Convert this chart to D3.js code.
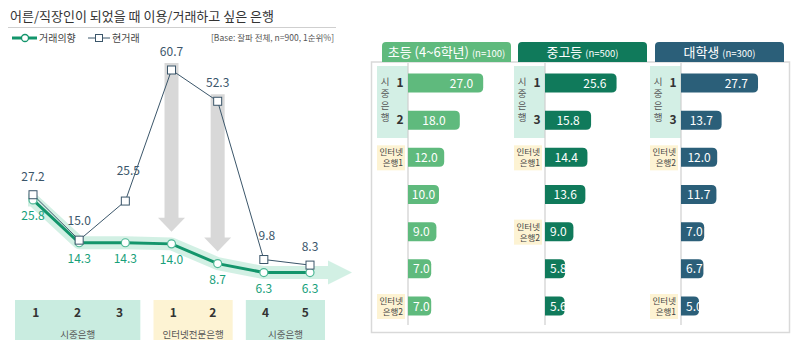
<!DOCTYPE html>
<html><head><meta charset="utf-8">
<script src="https://cdn.jsdelivr.net/npm/d3@7"></script>
<style>
body{margin:0;background:#fff;}
svg{display:block;font-family:"Noto Sans CJK KR","Noto Sans",sans-serif;}
</style></head>
<body><svg id="c" width="800" height="359"></svg>
<script>
// ---------- data ----------
const titleText = '어른/직장인이 되었을 때 이용/거래하고 싶은 은행';
const baseNote = '[Base: 잘파 전체, n=900,  1순위%]';
const seriesNames = ['거래의향', '현거래'];
const lineCategories = ['시중1', '시중2', '시중3', '인터넷1', '인터넷2', '시중4', '시중5'];
const intentValues = [25.8, 14.3, 14.3, 14.0, 8.7, 6.3, 6.3];
const currentValues = [27.2, 15.0, 25.5, 60.7, 52.3, 9.8, 8.3];
const groupNames = ['시중은행', '인터넷전문은행', '시중은행'];
const groupNumbers = [['1', '2', '3'], ['1', '2'], ['4', '5']];
const groupStart = [0, 3, 5];
const arrowIdx = [3, 4];

const panelTitles = ['초등 (4~6학년)', '중고등', '대학생'];
const panelN = ['(n=100)', '(n=500)', '(n=300)'];
const elemValues = [27.0, 18.0, 12.0, 10.0, 9.0, 7.0, 7.0];
const elemLabels = ['1', '2', '인터넷|은행1', '', '', '', '인터넷|은행2'];
const midValues = [25.6, 15.8, 14.4, 13.6, 9.0, 5.8, 5.6];
const midLabels = ['1', '3', '인터넷|은행1', '', '인터넷|은행2', '', ''];
const uniValues = [27.7, 13.7, 12.0, 11.7, 7.0, 6.7, 5.0];
const uniLabels = ['1', '3', '인터넷|은행2', '', '', '', '인터넷|은행1'];
const sideLabel = '시중은행';

// ---------- styles ----------
const green = '#17a07a', greenLine = '#13956b', navy = '#3b566a';
const panelColors = ['#5fba7d', '#107a5b', '#2b5f79'];

const svg = d3.select('#c');

// title
svg.append('text').attr('x', 10).attr('y', 21).attr('font-size', 13).attr('fill', '#333').text(titleText);
svg.append('line').attr('x1', 8).attr('x2', 336).attr('y1', 27.5).attr('y2', 27.5).attr('stroke', '#cfcfcf').attr('stroke-width', 1.2);

// legend
const lg = svg.append('g');
lg.append('line').attr('x1', 12).attr('x2', 37).attr('y1', 38).attr('y2', 38).attr('stroke', greenLine).attr('stroke-width', 3);
lg.append('circle').attr('cx', 25).attr('cy', 38).attr('r', 3.5).attr('fill', '#fff').attr('stroke', greenLine).attr('stroke-width', 1.3);
lg.append('text').attr('x', 39).attr('y', 41.5).attr('font-size', 10).attr('fill', '#444').text(seriesNames[0]);
lg.append('line').attr('x1', 88).attr('x2', 110).attr('y1', 38).attr('y2', 38).attr('stroke', navy).attr('stroke-width', 1);
lg.append('rect').attr('x', 95.5).attr('y', 34.5).attr('width', 7).attr('height', 7).attr('fill', '#fff').attr('stroke', navy).attr('stroke-width', 1);
lg.append('text').attr('x', 112).attr('y', 41.5).attr('font-size', 10).attr('fill', '#444').text(seriesNames[1]);
svg.append('text').attr('x', 334).attr('y', 41).attr('text-anchor', 'end').attr('font-size', 8.5).attr('fill', '#555').text(baseNote);

// line chart scales
const x = d3.scalePoint().domain(lineCategories).range([33, 310]);
const y = d3.scaleLinear().domain([0, 60.7]).range([296, 70]);
const pts = (vals) => vals.map((v, i) => [x(lineCategories[i]), y(v)]);
const gp = pts(intentValues), cp = pts(currentValues);

// green band with arrow
const bandPts = [[gp[0][0] - 5, gp[0][1]]].concat(gp).concat([[x.range()[1] + 18, gp[gp.length - 1][1]]]);
svg.append('path').attr('d', d3.line()(bandPts)).attr('fill', 'none').attr('stroke', '#cdeee1').attr('stroke-width', 13).attr('stroke-linejoin', 'round').attr('opacity', 0.9);
const ax = x.range()[1] + 18, ay = gp[gp.length - 1][1];
svg.append('path').attr('d', `M${ax},${ay - 12}L${ax + 24},${ay}L${ax},${ay + 12}Z`).attr('fill', '#cdeee1').attr('opacity', 0.9);

// gray arrows
arrowIdx.forEach(i => {
  const cx = x(lineCategories[i]);
  const top = y(currentValues[i]) - 7;
  const tip = y(intentValues[i]) - 12;
  const hs = tip - 14;
  svg.append('path').attr('d', `M${cx - 7},${top}L${cx + 7},${top}L${cx + 7},${hs}L${cx + 13.5},${hs}L${cx},${tip}L${cx - 13.5},${hs}L${cx - 7},${hs}Z`).attr('fill', '#d6d6d6').attr('opacity', 0.95);
});

// current line
svg.append('path').attr('d', d3.line()(cp)).attr('fill', 'none').attr('stroke', navy).attr('stroke-width', 1);
// intent line
svg.append('path').attr('d', d3.line()(gp)).attr('fill', 'none').attr('stroke', greenLine).attr('stroke-width', 3);
svg.selectAll('.gc').data(gp).enter().append('circle').attr('cx', d => d[0]).attr('cy', d => d[1]).attr('r', 4).attr('fill', '#fff').attr('stroke', '#4fb896').attr('stroke-width', 1.2);
svg.selectAll('.cs').data(cp).enter().append('rect').attr('x', d => d[0] - 4).attr('y', d => d[1] - 4).attr('width', 8).attr('height', 8).attr('fill', '#fff').attr('stroke', navy).attr('stroke-width', 1);

// labels
const curDy = [-14, -15, -26, -14, -14, -20, -14];
const curDx = [0, 0, 3, 0, 0, 3, 0];
svg.selectAll('.cl').data(cp).enter().append('text').attr('x', (d, i) => d[0] + curDx[i]).attr('y', (d, i) => d[1] + curDy[i])
  .attr('text-anchor', 'middle').attr('font-size', 12).attr('fill', navy).text((d, i) => currentValues[i].toFixed(1));
svg.selectAll('.gl').data(gp).enter().append('text').attr('x', d => d[0]).attr('y', d => d[1] + 20)
  .attr('text-anchor', 'middle').attr('font-size', 12).attr('fill', green).text((d, i) => intentValues[i].toFixed(1));

// group boxes
groupNames.forEach((g, gi) => {
  const n = groupNumbers[gi].length;
  const x0 = x(lineCategories[groupStart[gi]]) - 18;
  const x1 = x(lineCategories[groupStart[gi] + n - 1]) + 15;
  const fill = gi === 1 ? '#fdf3d3' : '#c9ece0';
  svg.append('rect').attr('x', x0).attr('y', 300).attr('width', x1 - x0).attr('height', 40).attr('fill', fill);
  groupNumbers[gi].forEach((t, j) => {
    svg.append('text').attr('x', x0 + (j + 0.5) * (x1 - x0) / n).attr('y', 316.5).attr('text-anchor', 'middle')
      .attr('font-size', 12).attr('font-weight', 'bold').attr('fill', '#333').text(t);
  });
  svg.append('text').attr('x', (x0 + x1) / 2).attr('y', 338).attr('text-anchor', 'middle').attr('font-size', 9.5).attr('fill', '#555').text(g);
});

// ---------- right panels ----------
svg.append('rect').attr('x', 371.5).attr('y', 62).attr('width', 418).attr('height', 270.5).attr('fill', '#fff').attr('stroke', '#d9d9d9').attr('stroke-width', 1.5);

const panels = [
  {vals: elemValues, labels: elemLabels},
  {vals: midValues, labels: midLabels},
  {vals: uniValues, labels: uniLabels}
];
const tabX = [382, 518, 655], tabW = 129;
const axisX = [408, 545, 681];
const rowY = d3.scalePoint().domain(d3.range(7)).range([83, 306]);
const bw = d3.scaleLinear().domain([0, 30]).range([5, 83]);
const barH = 19;
const defs = svg.append('defs');

panels.forEach((p, pi) => {
  const tx = tabX[pi];
  svg.append('path').attr('d', `M${tx},62L${tx},46Q${tx},42 ${tx + 4},42L${tx + tabW - 4},42Q${tx + tabW},42 ${tx + tabW},46L${tx + tabW},62Z`).attr('fill', panelColors[pi]);
  const tt = svg.append('text').attr('x', tx + tabW / 2).attr('y', 57).attr('text-anchor', 'middle').attr('fill', '#fff');
  tt.append('tspan').attr('font-size', 13).text(panelTitles[pi] + ' ');
  tt.append('tspan').attr('font-size', 9.5).text(panelN[pi]);

  const a = axisX[pi];
  svg.append('rect').attr('x', a - 31).attr('y', 66).attr('width', 31).attr('height', 72).attr('fill', '#d3efe5');
  svg.append('text').attr('x', a - 23).attr('y', 101).attr('text-anchor', 'middle')
    .style('writing-mode', 'vertical-rl').style('letter-spacing', '2.5px')
    .attr('font-size', 9.5).attr('fill', '#555').text(sideLabel);
  svg.append('line').attr('x1', a).attr('x2', a).attr('y1', 63).attr('y2', 325).attr('stroke', '#cfcfcf').attr('stroke-width', 1.2);

  p.vals.forEach((v, r) => {
    const cy = rowY(r);
    const w = bw(v);
    const x0 = a, x1 = a + w, y0 = cy - barH / 2, y1 = cy + barH / 2, rr = 5;
    svg.append('path').attr('d', `M${x0},${y0}L${x1 - rr},${y0}Q${x1},${y0} ${x1},${y0 + rr}L${x1},${y1 - rr}Q${x1},${y1} ${x1 - rr},${y1}L${x0},${y1}Z`).attr('fill', panelColors[pi]);
    const cid = `clip${pi}_${r}`;
    defs.append('clipPath').attr('id', cid).append('rect').attr('x', x0).attr('y', y0).attr('width', w + 1).attr('height', barH);
    const lt = svg.append('text').attr('clip-path', `url(#${cid})`).attr('y', cy + 4.5).attr('font-size', 12).attr('fill', '#fff').text(v.toFixed(1));
    if (v > 20) lt.attr('x', x1 - 10).attr('text-anchor', 'end');
    else if (w < 30) lt.attr('x', a + 5).attr('text-anchor', 'start');
    else lt.attr('x', a + w / 2).attr('text-anchor', 'middle');

    const lab = p.labels[r];
    if (!lab) return;
    if (lab.indexOf('|') < 0) {
      svg.append('text').attr('x', a - 8).attr('y', cy + 4).attr('text-anchor', 'middle').attr('font-size', 12).attr('font-weight', 'bold').attr('fill', '#333').text(lab);
    } else {
      const parts = lab.split('|');
      svg.append('rect').attr('x', a - 31).attr('y', cy - 12).attr('width', 28).attr('height', 25).attr('fill', '#fdf3d3');
      parts.forEach((t, k) => {
        svg.append('text').attr('x', a - 5).attr('y', cy - 2 + k * 11).attr('text-anchor', 'end').attr('font-size', 8.5).attr('fill', '#444').text(t);
      });
    }
  });
});
</script></body></html>
